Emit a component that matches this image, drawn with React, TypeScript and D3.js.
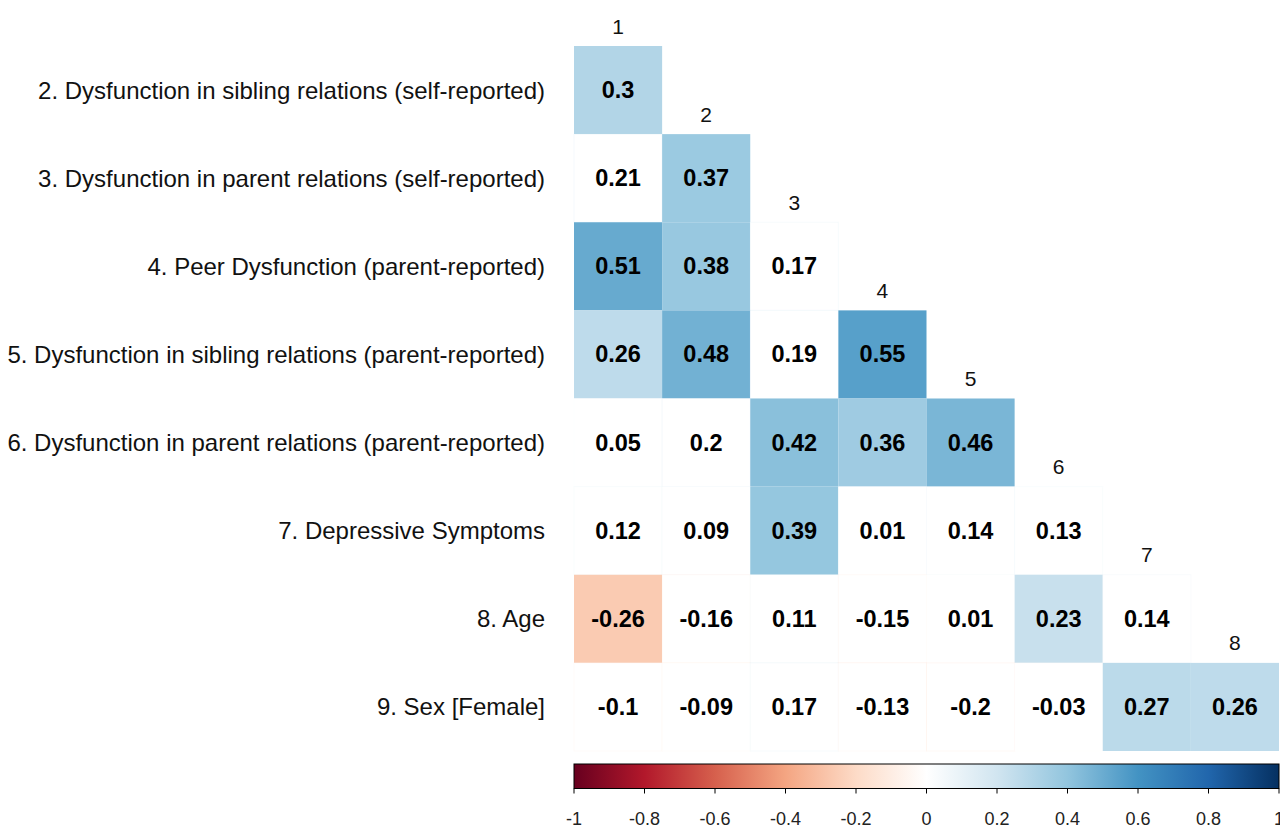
import React from "react";
import * as d3 from "d3";

const rowLabels = [
  "2. Dysfunction in sibling relations (self-reported)",
  "3. Dysfunction in parent relations (self-reported)",
  "4. Peer Dysfunction (parent-reported)",
  "5. Dysfunction in sibling relations (parent-reported)",
  "6. Dysfunction in parent relations (parent-reported)",
  "7. Depressive Symptoms",
  "8. Age",
  "9. Sex [Female]",
];
const colLabels = ["1", "2", "3", "4", "5", "6", "7", "8"];
const corrRows: number[][] = [
  [0.3],
  [0.21, 0.37],
  [0.51, 0.38, 0.17],
  [0.26, 0.48, 0.19, 0.55],
  [0.05, 0.2, 0.42, 0.36, 0.46],
  [0.12, 0.09, 0.39, 0.01, 0.14, 0.13],
  [-0.26, -0.16, 0.11, -0.15, 0.01, 0.23, 0.14],
  [-0.1, -0.09, 0.17, -0.13, -0.2, -0.03, 0.27, 0.26],
];
const SIG_THRESHOLD = 0.22;
const paletteStops = [
  "#67001F", "#B2182B", "#D6604D", "#F4A582", "#FDDBC7", "#FFFFFF",
  "#D1E5F0", "#92C5DE", "#4393C3", "#2166AC", "#053061",
];
const legendTicks = [-1, -0.8, -0.6, -0.4, -0.2, 0, 0.2, 0.4, 0.6, 0.8, 1];

export default function App() {
  const W = 1280, H = 829;
  const left = 574, right = 1279, top = 46, bottom = 751;
  const x = d3.scaleBand<string>().domain(colLabels).range([left, right]);
  const y = d3.scaleBand<string>().domain(rowLabels).range([top, bottom]);
  const color = d3
    .scaleLinear<string>()
    .domain(d3.range(11).map((i) => -1 + i * 0.2))
    .range(paletteStops)
    .interpolate(d3.interpolateRgb);
  const lx = d3.scaleLinear().domain([-1, 1]).range([left, right]);
  const bw = x.bandwidth();
  const bh = y.bandwidth();
  const font = "Liberation Sans, Arial, Helvetica, sans-serif";
  const barTop = 764, barBot = 788.5;

  return (
    <svg width={W} height={H} style={{ position: "absolute", left: 0, top: 0, background: "#fff" }} fontFamily={font}>
      <defs>
        <linearGradient id="rdbu" x1="0" x2="1" y1="0" y2="0">
          {paletteStops.map((c, i) => (
            <stop key={i} offset={`${(i / (paletteStops.length - 1)) * 100}%`} stopColor={c} />
          ))}
        </linearGradient>
      </defs>
      {corrRows.map((row, ri) =>
        row.map((v, ci) => {
          const cx = x(colLabels[ci])!;
          const cy = y(rowLabels[ri])!;
          const sig = Math.abs(v) >= SIG_THRESHOLD;
          return (
            <rect
              key={`${ri}-${ci}`}
              x={cx}
              y={cy}
              width={bw}
              height={bh}
              fill={sig ? color(v) : "#fff"}
              stroke={sig ? "none" : color(v)}
              strokeOpacity={sig ? 0 : 0.2}
              strokeWidth={1}
            />
          );
        })
      )}
      {corrRows.map((row, ri) =>
        row.map((v, ci) => (
          <text
            key={`t${ri}-${ci}`}
            x={x(colLabels[ci])! + bw / 2}
            y={y(rowLabels[ri])! + bh / 2}
            textAnchor="middle"
            dominantBaseline="central"
            fontWeight="bold"
            fontSize={23.5}
            fill="#000"
          >
            {String(v)}
          </text>
        ))
      )}
      {colLabels.map((c, i) => (
        <text
          key={`c${c}`}
          x={x(c)! + bw / 2}
          y={y(rowLabels[i])! - 20}
          textAnchor="middle"
          dominantBaseline="central"
          fontSize={21}
          fill="#111"
        >
          {c}
        </text>
      ))}
      {rowLabels.map((r) => (
        <text
          key={r}
          x={545}
          y={y(r)! + bh / 2}
          textAnchor="end"
          dominantBaseline="central"
          fontSize={24}
          fill="#111"
        >
          {r}
        </text>
      ))}
      <rect x={left} y={barTop} width={right - left} height={barBot - barTop} fill="url(#rdbu)" stroke="#000" strokeWidth={1} />
      {legendTicks.map((t) => (
        <g key={`lt${t}`}>
          <line x1={lx(t)} x2={lx(t)} y1={barBot} y2={barBot + 5} stroke="#000" strokeWidth={1} />
          <text x={lx(t)} y={824.5} textAnchor="middle" fontSize={18} fill="#222">
            {String(t)}
          </text>
        </g>
      ))}
    </svg>
  );
}
